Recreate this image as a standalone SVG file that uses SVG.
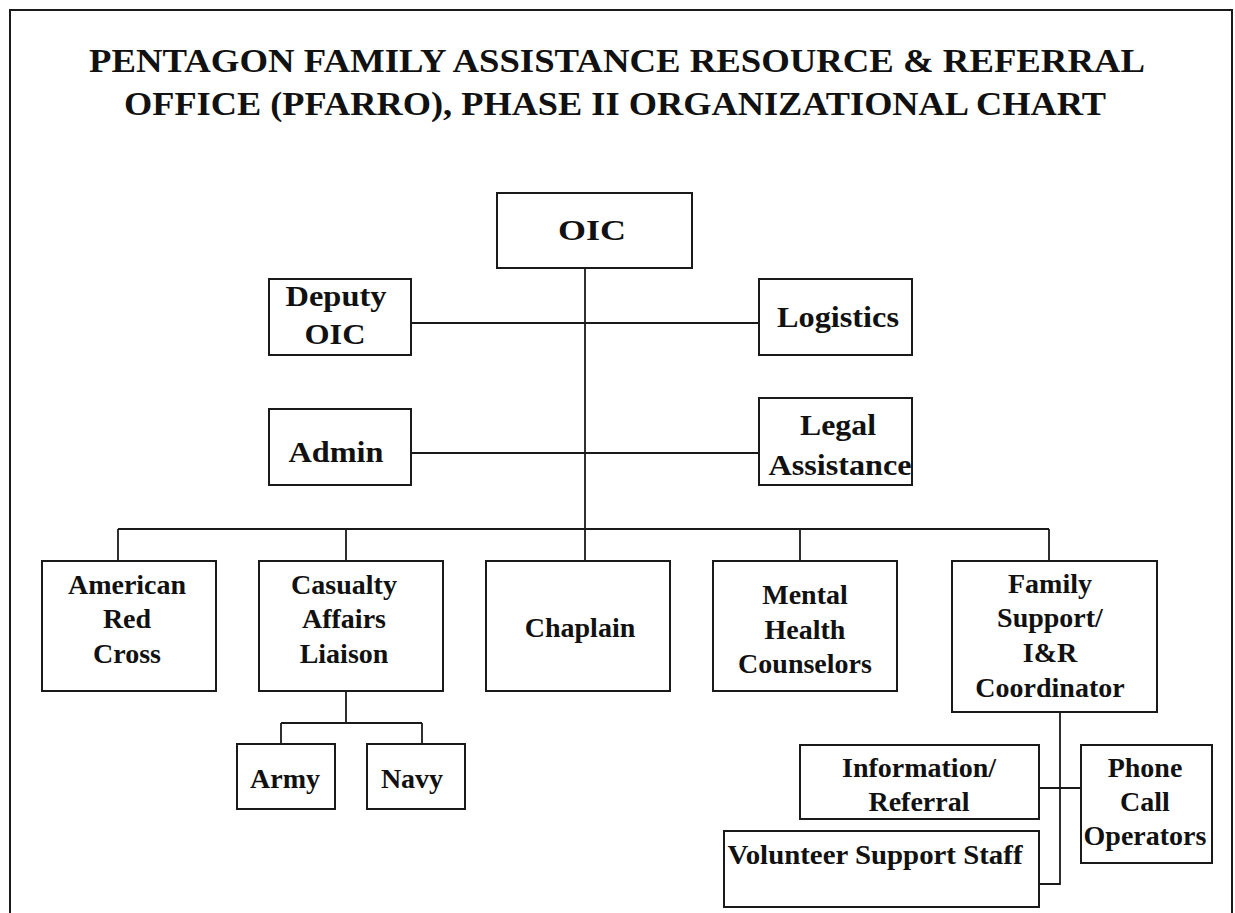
<svg xmlns="http://www.w3.org/2000/svg" width="1235" height="913" viewBox="0 0 1235 913">
<style>
.bg{fill:#ffffff}
.frame{fill:none;stroke:#1a1a1a;stroke-width:2}
.box{fill:#ffffff;stroke:#1a1a1a;stroke-width:2}
.conn{fill:none;stroke:#1a1a1a;stroke-width:1.8}
.title{font-family:"Liberation Serif","Times New Roman",serif;font-weight:bold;font-size:33px;fill:#111;text-anchor:middle}
.t{font-family:"Liberation Serif","Times New Roman",serif;font-weight:bold;font-size:28px;fill:#111;text-anchor:middle}
.tu{font-family:"Liberation Serif","Times New Roman",serif;font-weight:bold;font-size:30px;fill:#111;text-anchor:middle}
</style>
<rect class="bg" x="0" y="0" width="1235" height="913"/>
<path class="frame" d="M10,920 V10 H1232 V920"/>
<g id="title">
<text class="title" x="617" y="72" textLength="1056" lengthAdjust="spacingAndGlyphs">PENTAGON FAMILY ASSISTANCE RESOURCE &amp; REFERRAL</text>
<text class="title" x="615" y="115" textLength="982" lengthAdjust="spacingAndGlyphs">OFFICE (PFARRO), PHASE II ORGANIZATIONAL CHART</text>
</g>
<g id="connectors">
<path class="conn" d="M585,268 V561"/>
<path class="conn" d="M411,323 H759"/>
<path class="conn" d="M411,453 H759"/>
<path class="conn" d="M118,529 H1049"/>
<path class="conn" d="M118,529 V561 M346,529 V561 M800,529 V561 M1049,529 V561"/>
<path class="conn" d="M346,691 V723 M281,723 H422 M281,723 V744 M422,723 V744"/>
<path class="conn" d="M1060,712 V884 H1039"/>
<path class="conn" d="M1039,788 H1081"/>
</g>
<g id="oic">
<rect class="box" x="497" y="193" width="195" height="75"/>
<text class="tu" x="592" y="240" textLength="68" lengthAdjust="spacingAndGlyphs">OIC</text>
</g>
<g id="deputy-oic">
<rect class="box" x="269" y="279" width="142" height="76"/>
<text class="tu" x="336" y="306" textLength="101" lengthAdjust="spacingAndGlyphs">Deputy</text>
<text class="tu" x="335" y="344" textLength="61" lengthAdjust="spacingAndGlyphs">OIC</text>
</g>
<g id="logistics">
<rect class="box" x="759" y="279" width="153" height="76"/>
<text class="tu" x="838" y="327" textLength="122" lengthAdjust="spacingAndGlyphs">Logistics</text>
</g>
<g id="admin">
<rect class="box" x="269" y="409" width="142" height="76"/>
<text class="tu" x="336" y="462" textLength="95" lengthAdjust="spacingAndGlyphs">Admin</text>
</g>
<g id="legal-assistance">
<rect class="box" x="759" y="398" width="153" height="87"/>
<text class="tu" x="838" y="435" textLength="76" lengthAdjust="spacingAndGlyphs">Legal</text>
<text class="tu" x="840" y="475" textLength="143" lengthAdjust="spacingAndGlyphs">Assistance</text>
</g>
<g id="american-red-cross">
<rect class="box" x="42" y="561" width="174" height="130"/>
<text class="t" x="127" y="594">American</text>
<text class="t" x="127" y="628">Red</text>
<text class="t" x="127" y="663">Cross</text>
</g>
<g id="casualty-affairs-liaison">
<rect class="box" x="259" y="561" width="184" height="130"/>
<text class="t" x="344" y="594">Casualty</text>
<text class="t" x="344" y="628">Affairs</text>
<text class="t" x="344" y="663">Liaison</text>
</g>
<g id="chaplain">
<rect class="box" x="486" y="561" width="184" height="130"/>
<text class="t" x="580" y="637">Chaplain</text>
</g>
<g id="mental-health-counselors">
<rect class="box" x="713" y="561" width="184" height="130"/>
<text class="t" x="805" y="604">Mental</text>
<text class="t" x="805" y="639">Health</text>
<text class="t" x="805" y="673">Counselors</text>
</g>
<g id="family-support">
<rect class="box" x="952" y="561" width="205" height="151"/>
<text class="t" x="1050" y="593">Family</text>
<text class="t" x="1050" y="627">Support/</text>
<text class="t" x="1050" y="662">I&amp;R</text>
<text class="t" x="1050" y="697">Coordinator</text>
</g>
<g id="army">
<rect class="box" x="237" y="744" width="98" height="65"/>
<text class="t" x="285" y="788">Army</text>
</g>
<g id="navy">
<rect class="box" x="367" y="744" width="98" height="65"/>
<text class="t" x="412" y="788">Navy</text>
</g>
<g id="information-referral">
<rect class="box" x="800" y="745" width="239" height="74"/>
<text class="t" x="919" y="777">Information/</text>
<text class="t" x="919" y="811">Referral</text>
</g>
<g id="phone-call-operators">
<rect class="box" x="1081" y="745" width="131" height="118"/>
<text class="t" x="1145" y="777">Phone</text>
<text class="t" x="1145" y="811">Call</text>
<text class="t" x="1145" y="845">Operators</text>
</g>
<g id="volunteer-support-staff">
<rect class="box" x="724" y="831" width="315" height="76"/>
<text class="t" x="875" y="864" textLength="295" lengthAdjust="spacingAndGlyphs">Volunteer Support Staff</text>
</g>
</svg>
